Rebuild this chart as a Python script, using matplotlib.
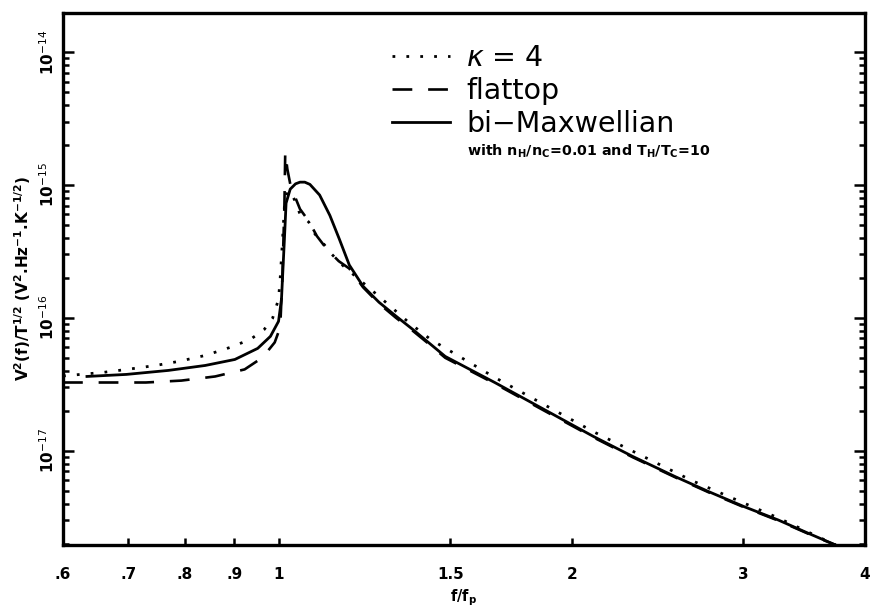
import matplotlib.pyplot as plt
from matplotlib.ticker import FixedLocator, NullLocator, LogLocator, NullFormatter
import numpy as np

# values: f/fp and V^2(f)/T^1/2
f_kappa = [0.600, 0.659, 0.698, 0.747, 0.789, 0.840, 0.891, 0.935, 0.966, 0.985,
           0.999, 1.003, 1.008, 1.013, 1.020, 1.030, 1.039, 1.051, 1.073, 1.089,
           1.112, 1.133, 1.165, 1.267, 1.359, 1.431, 1.666, 1.873, 2.104, 2.658,
           3.257, 3.731]
v_kappa = [3.65e-17, 3.88e-17, 4.09e-17, 4.38e-17, 4.70e-17, 5.21e-17, 5.99e-17, 6.89e-17, 8.19e-17, 9.91e-17,
           1.38e-16, 2.0e-16, 3.6e-16, 6.9e-16, 9.0e-16, 8.6e-16, 7.57e-16, 6.04e-16, 5.26e-16, 4.27e-16,
           3.59e-16, 3.01e-16, 2.45e-16, 1.45e-16, 9.25e-17, 6.89e-17, 3.56e-17, 2.22e-17, 1.39e-17, 5.94e-18,
           3.12e-18, 1.95e-18]

f_flat = [0.600, 0.670, 0.730, 0.794, 0.860, 0.922, 0.962, 0.990, 1.003, 1.008,
          1.013, 1.015, 1.020, 1.027, 1.039, 1.051, 1.073, 1.094, 1.120, 1.152,
          1.181, 1.220, 1.267, 1.319, 1.372, 1.424, 1.482, 1.666, 1.873, 2.104,
          2.311, 2.554, 2.765, 3.008, 3.257, 3.493, 3.731]
v_flat = [3.26e-17, 3.26e-17, 3.26e-17, 3.37e-17, 3.62e-17, 4.09e-17, 5.03e-17, 6.53e-17, 8.48e-17, 1.95e-16,
          7.0e-16, 1.77e-15, 1.32e-15, 1.02e-15, 8.11e-16, 6.59e-16, 5.35e-16, 4.12e-16, 3.29e-16, 2.67e-16,
          2.35e-16, 1.70e-16, 1.28e-16, 1.00e-16, 8.0e-17, 6.4e-17, 5.0e-17, 3.2e-17, 2.0e-17, 1.26e-17,
          8.9e-18, 6.3e-18, 4.85e-18, 3.74e-18, 2.98e-18, 2.38e-18, 1.95e-18]

f_bimax = [0.635, 0.697, 0.770, 0.840, 0.901, 0.951, 0.980, 0.999, 1.006, 1.013,
           1.017, 1.027, 1.040, 1.051, 1.063, 1.076, 1.101, 1.128, 1.153, 1.181,
           1.220, 1.267, 1.319, 1.372, 1.424, 1.482, 1.666, 1.873, 2.104, 2.311,
           2.554, 2.765, 3.008, 3.257, 3.493, 3.731]
v_bimax = [3.62e-17, 3.75e-17, 4.02e-17, 4.38e-17, 4.86e-17, 5.89e-17, 7.25e-17, 9.41e-17, 1.38e-16, 3.91e-16,
           7.3e-16, 9.3e-16, 1.02e-15, 1.05e-15, 1.05e-15, 1.01e-15, 8.4e-16, 5.9e-16, 3.95e-16, 2.50e-16,
           1.73e-16, 1.31e-16, 1.03e-16, 8.19e-17, 6.53e-17, 5.12e-17, 3.26e-17, 2.04e-17, 1.28e-17, 9.02e-18,
           6.37e-18, 4.91e-18, 3.78e-18, 3.01e-18, 2.40e-18, 1.95e-18]

xticks = [0.6, 0.7, 0.8, 0.9, 1, 1.5, 2, 3, 4]
xticklabels = ['.6', '.7', '.8', '.9', '1', '1.5', '2', '3', '4']
yticks = [1e-17, 1e-16, 1e-15, 1e-14]
yticklabels = [r'10$^{-17}$', r'10$^{-16}$', r'10$^{-15}$', r'10$^{-14}$']

plt.rcParams['font.family'] = ['DejaVu Sans']
plt.rcParams['mathtext.fontset'] = 'dejavusans'

fig = plt.figure(figsize=(8.71, 6.07), dpi=100)
ax = fig.add_axes([63/871, 62/607, 802/871, 532/607])

ax.plot(f_kappa, v_kappa, color='black', linewidth=2.0, dashes=(1.0, 4.0),
        label=r'$\mathit{\kappa}$ = 4')
ax.plot(f_flat, v_flat, color='black', linewidth=1.9, dashes=(7.5, 6.0), label='flattop')
ax.plot(f_bimax, v_bimax, color='black', linewidth=2.0, label='bi\u2212Maxwellian')

ax.set_xscale('log')
ax.set_yscale('log')
ax.set_xlim(0.6, 4)
ax.set_ylim(1.95e-18, 1.97e-14)

ax.xaxis.set_major_locator(FixedLocator(xticks))
ax.xaxis.set_minor_locator(NullLocator())
ax.set_xticklabels(xticklabels, fontsize=11, fontweight='bold')
ax.yaxis.set_major_locator(FixedLocator(yticks))
ax.yaxis.set_minor_locator(LogLocator(base=10, subs=np.arange(2, 10)))
ax.yaxis.set_minor_formatter(NullFormatter())
ax.set_yticklabels(yticklabels, fontsize=11, fontweight='bold', rotation=90, va='center')

ax.tick_params(axis='both', which='both', direction='in', width=1.8)
ax.tick_params(axis='y', which='major', length=8, right=True, pad=4)
ax.tick_params(axis='y', which='minor', length=4, right=True)
ax.tick_params(axis='x', which='major', length=5, top=False, pad=16)
for s in ax.spines.values():
    s.set_linewidth(2.4)

ax.set_xlabel(r'f/f$_\mathbf{p}$', fontsize=10.5, fontweight='bold')
ax.xaxis.set_label_coords(0.5, -0.079)
ax.set_ylabel(r'V$^\mathbf{2}$(f)/T$^\mathbf{1/2}$ (V$^\mathbf{2}$.Hz$^\mathbf{-1}$.K$^\mathbf{-1/2}$)',
              fontsize=11, fontweight='bold', labelpad=4)

leg = ax.legend(loc='upper left', bbox_to_anchor=(392/871, 1 - 44/607),
                bbox_transform=fig.transFigure, frameon=False, fontsize=20.5,
                handlelength=2.05, handletextpad=0.55, labelspacing=0.17,
                borderpad=0, borderaxespad=0)
fig.text(467/871, 1 - 151/607,
         r'with n$_\mathbf{H}$/n$_\mathbf{C}$=0.01 and T$_\mathbf{H}$/T$_\mathbf{C}$=10',
         fontsize=10.3, fontweight='bold', va='center')

fig.savefig('out.png', dpi=100)
